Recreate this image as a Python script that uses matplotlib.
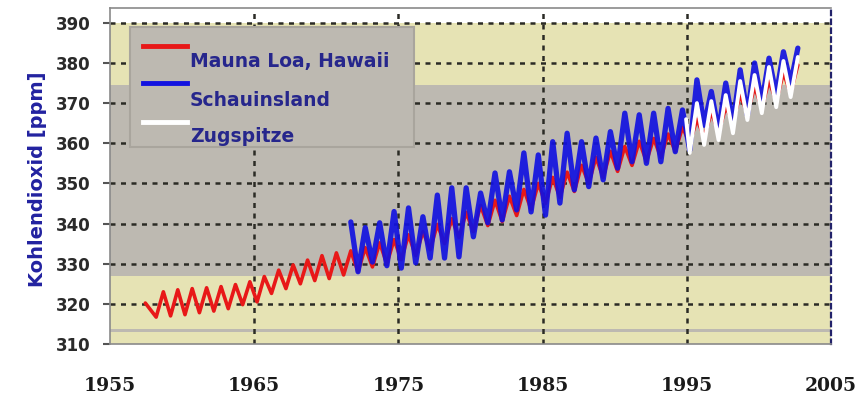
import matplotlib
matplotlib.use("Agg")
import matplotlib.pyplot as plt
import numpy as np

# --- data -------------------------------------------------------------
# Seasonal minimum / maximum of each year (ppm)
mlo_years = list(range(1958, 2003))
mlo_trough = [316.7, 317.0, 317.3, 317.8, 318.2, 318.8, 319.8, 320.5, 322.6, 323.8,
              325.0, 325.8, 326.3, 327.2, 328.0, 329.2, 330.0, 331.0, 332.0, 333.5,
              335.0, 336.5, 338.0, 339.5, 340.5, 342.0, 343.5, 345.0, 346.5, 348.0,
              350.0, 351.5, 353.0, 354.5, 355.5, 356.5, 358.0, 360.0, 361.5, 362.8,
              365.5, 367.5, 369.0, 370.5, 372.5]
mlo_peak = [323.0, 323.5, 323.8, 324.0, 324.3, 324.8, 325.5, 326.8, 328.4, 329.7,
            330.9, 332.0, 332.7, 333.2, 334.0, 335.2, 336.0, 337.2, 338.0, 339.8,
            341.2, 342.8, 344.5, 345.8, 346.8, 348.5, 350.0, 351.5, 352.8, 354.5,
            356.5, 358.0, 359.2, 360.5, 361.2, 362.3, 364.0, 366.0, 367.8, 369.0,
            372.0, 374.0, 375.5, 377.5, 379.5]
mlo_start = (1957.45, 320.2)

sch_years = list(range(1972, 2003))
sch_trough = [328.0, 330.4, 329.5, 328.9, 330.2, 331.4, 331.4, 331.7, 336.7, 340.2,
              340.9, 343.4, 342.9, 342.1, 345.1, 348.4, 349.2, 350.9, 353.8, 355.4,
              355.0, 355.4, 357.9, 358.3, 364.5, 363.0, 365.0, 367.0, 370.0, 372.0,
              375.0]
sch_peak = [339.0, 340.2, 343.0, 343.9, 341.7, 347.1, 348.9, 348.9, 347.6, 352.6,
            352.9, 357.6, 357.1, 360.4, 362.5, 360.4, 361.3, 362.9, 367.5, 367.1,
            367.5, 368.7, 368.3, 375.8, 372.9, 375.0, 378.3, 380.0, 381.2, 382.8,
            383.7]
sch_start = (1971.7, 340.4)

zug_years = list(range(1995, 2003))
zug_trough = [357.6, 359.6, 360.8, 362.5, 365.8, 367.5, 369.0, 371.5]
zug_peak = [370.0, 370.5, 372.0, 375.5, 377.0, 379.0, 380.5, 381.5]
zug_start = (1994.95, 366.0)

series_names = ["Mauna Loa, Hawaii", "Schauinsland", "Zugspitze"]
x_ticks = [1955, 1965, 1975, 1985, 1995, 2005]
y_ticks = [310, 320, 330, 340, 350, 360, 370, 380, 390]

# time of year of the seasonal minimum and maximum
TROUGH_PHASE = 0.2
PEAK_PHASE = 0.7


def seasonal_curve(start, years, troughs, peaks):
    t = [start[0]]
    v = [start[1]]
    for y, lo, hi in zip(years, troughs, peaks):
        t += [y + TROUGH_PHASE, y + PEAK_PHASE]
        v += [lo, hi]
    return np.array(t), np.array(v)


# --- figure -----------------------------------------------------------
KHAKI = "#e6e3b4"
GREY = "#bdb9b1"

fig = plt.figure(figsize=(8.6, 3.98), dpi=100)
ax = fig.add_axes([0.1279, 0.1357, 0.8384, 0.8442])
ax.set_facecolor("white")
ax.set_xlim(1955, 2005)
ax.set_ylim(310, 393.7)

# background bands
ax.axhspan(374.5, 390, color=KHAKI, zorder=0, lw=0)
ax.axhspan(327.0, 374.5, color=GREY, zorder=0, lw=0)
ax.axhspan(313.8, 327.0, color=KHAKI, zorder=0, lw=0)
ax.axhspan(313.0, 313.8, color=GREY, zorder=0, lw=0)
ax.axhspan(310.0, 313.0, color=KHAKI, zorder=0, lw=0)

# dotted grid
grid_kw = dict(color="#2b2b25", lw=1.8, ls=(0, (2.0, 2.2)), zorder=1)
for yv in y_ticks[1:]:
    ax.axhline(yv, **grid_kw)
for xv in x_ticks[1:-1]:
    ax.axvline(xv, **grid_kw)

# curves
line_kw = dict(solid_joinstyle="round", solid_capstyle="round")
t, v = seasonal_curve(mlo_start, mlo_years, mlo_trough, mlo_peak)
ax.plot(t, v, color="#e81818", lw=2.6, zorder=3, **line_kw)
t, v = seasonal_curve(sch_start, sch_years, sch_trough, sch_peak)
ax.plot(t, v, color="#1212e0", lw=3.8, zorder=4, alpha=0.92, **line_kw)
t, v = seasonal_curve(zug_start, zug_years, zug_trough, zug_peak)
ax.plot(t, v, color="white", lw=2.8, zorder=5, **line_kw)

# spines
for s in ["top", "left", "bottom"]:
    ax.spines[s].set_color("#8a8a8a")
    ax.spines[s].set_linewidth(1.2)
ax.spines["right"].set_color("#22226a")
ax.spines["right"].set_linewidth(1.6)
ax.spines["right"].set_linestyle((0, (2, 2)))

# ticks
ax.set_xticks(x_ticks)
ax.set_xticklabels([str(x) for x in x_ticks], fontfamily="DejaVu Serif",
                   fontweight="bold", fontsize=13.5, color="#1a1a1a")
ax.tick_params(axis="x", length=0, pad=24)
ax.set_yticks(y_ticks)
ax.set_yticklabels([str(y) for y in y_ticks], fontfamily="DejaVu Sans",
                   fontweight="bold", fontsize=12, color="#2a2a2a")
ax.tick_params(axis="y", length=5, width=1.5, color="#555555", pad=9)

ax.set_ylabel("Kohlendioxid [ppm]", fontfamily="DejaVu Sans", fontweight="bold",
              fontsize=14, color="#2222a0", labelpad=8)
ax.yaxis.set_label_coords(-0.088, 0.49)

# legend box
fig_w, fig_h = 860, 398


def fx(px):
    return px / fig_w


def fy(py):
    return 1 - py / fig_h


box = plt.Rectangle((fx(130), fy(147)), fx(414) - fx(130), fy(27) - fy(147),
                    transform=fig.transFigure, facecolor=GREY,
                    edgecolor="#a9a59d", lw=1.5, zorder=6)
fig.add_artist(box)
legend_colors = ["#e81818", "#1212e0", "white"]
line_rows = [46, 83, 122]
text_rows = [62, 100, 137]
for name, col, ly, ty in zip(series_names, legend_colors, line_rows, text_rows):
    fig.add_artist(plt.Line2D([fx(143), fx(187)], [fy(ly), fy(ly)],
                              transform=fig.transFigure, color=col, lw=3.5, zorder=7))
    fig.text(fx(190), fy(ty), name, fontfamily="DejaVu Sans", fontweight="bold",
             fontsize=13.5, color="#26268c", va="center", ha="left", zorder=8)

fig.savefig("out.png", dpi=100)
